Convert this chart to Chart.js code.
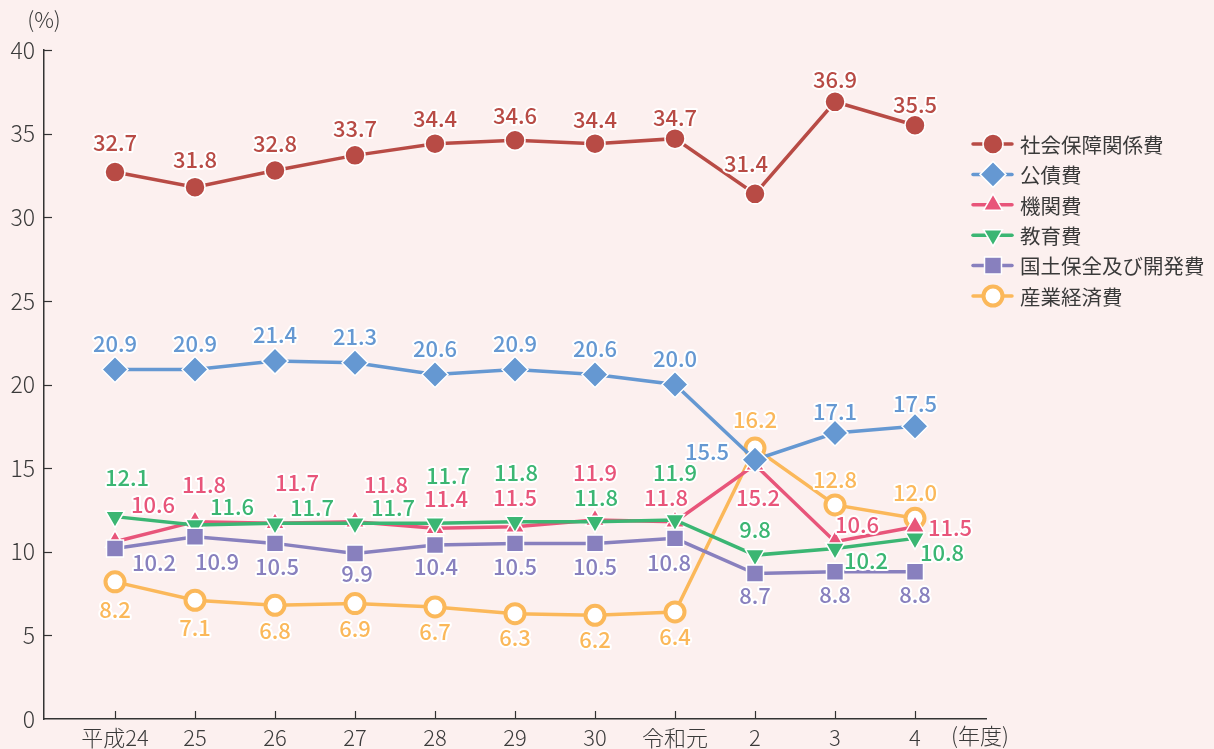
<!DOCTYPE html>
<html><head><meta charset="utf-8">
<script src="https://cdn.jsdelivr.net/npm/chart.js@4"></script>
<style>html,body{margin:0;padding:0;background:#fcf0ef;}#wrap{width:1214px;height:749px;position:relative}</style>
</head><body><div id="wrap"><canvas id="c" width="1214" height="749"></canvas></div>
<script>
// ---- data ----
const categories = ['平成24','25','26','27','28','29','30','令和元','2','3','4'];
const seriesNames = ['社会保障関係費','公債費','機関費','教育費','国土保全及び開発費','産業経済費'];
const socialSecurity = [32.7,31.8,32.8,33.7,34.4,34.6,34.4,34.7,31.4,36.9,35.5];
const publicDebt     = [20.9,20.9,21.4,21.3,20.6,20.9,20.6,20.0,15.5,17.1,17.5];
const agency         = [10.6,11.8,11.7,11.8,11.4,11.5,11.9,11.8,15.2,10.6,11.5];
const education      = [12.1,11.6,11.7,11.7,11.7,11.8,11.8,11.9,9.8,10.2,10.8];
const landDev        = [10.2,10.9,10.5,9.9,10.4,10.5,10.5,10.8,8.7,8.8,8.8];
const industry       = [8.2,7.1,6.8,6.9,6.7,6.3,6.2,6.4,16.2,12.8,12.0];
const yTicks = [0,5,10,15,20,25,30,35,40];

// ---- label placement (pixel offsets from marker) ----
const offSocial = [[0,-29],[0,-28],[0,-27],[0,-27],[0,-25],[0,-25],[0,-24],[0,-21],[-9,-30],[0,-22],[0,-21]];
const offDebt   = [[0,-26],[0,-26],[0,-26],[0,-26],[0,-26],[0,-26],[0,-26],[0,-26],[-48,-8],[0,-21],[0,-23]];
const offAgency = [[38,-37],[9,-37],[22,-41],[31,-37],[11,-30],[0,-29],[0,-47],[-9,-24],[3,33],[22,-17],[35,1]];
const offEdu    = [[12,-39],[37,-18],[37,-16],[38,-16],[13,-48],[1,-49],[1,-24],[0,-47],[0,-25],[31,12],[27,14]];
const offLand   = [[39,14],[22,25],[2,23],[2,20],[1,22],[0,23],[0,23],[-6,24],[0,22],[0,23],[0,23]];
const offInd    = [[0,28],[0,27],[0,25],[0,25],[0,25],[0,24],[0,24],[0,25],[0,-28],[0,-25],[0,-26]];

const FONT = "'Noto Sans CJK JP','Noto Sans',sans-serif";
const BG = '#fcf0ef';
const TXT = '#3a3a3a';

const pts = arr => arr.map((v,i)=>({x:i,y:v}));

const datasets = [
  {label:seriesNames[0], data:pts(socialSecurity), color:'#b84b45', pointStyle:'circle', pointRadius:10, order:0, offs:offSocial},
  {label:seriesNames[1], data:pts(publicDebt), color:'#6598d2', pointStyle:'rectRot', pointRadius:13, order:1, offs:offDebt},
  {label:seriesNames[2], data:pts(agency), color:'#e8557a', pointStyle:'triangle', pointRadius:11, order:4, offs:offAgency},
  {label:seriesNames[3], data:pts(education), color:'#3bb673', pointStyle:'triangle', pointRotation:180, pointRadius:11, order:3, offs:offEdu},
  {label:seriesNames[4], data:pts(landDev), color:'#8880be', pointStyle:'rect', pointRadius:12, order:2, offs:offLand},
  {label:seriesNames[5], data:pts(industry), color:'#fbb85a', pointStyle:'circle', pointRadius:9.5, order:5, offs:offInd, hollow:true},
].map(d=>Object.assign(d,{
  borderColor:d.color, borderWidth:3.5, tension:0,
  pointBackgroundColor:d.hollow?'#ffffff':d.color,
  pointBorderColor:d.hollow?d.color:'#ffffff',
  pointBorderWidth:d.hollow?4:1.5,
  pointRotation:d.pointRotation||0,
  fill:false
}));

const bgPlugin = {
  id:'bg',
  beforeDraw(chart){
    const c=chart.ctx; c.save(); c.fillStyle=BG; c.fillRect(0,0,chart.width,chart.height); c.restore();
  }
};

const tickPlugin = {
  id:'inticks',
  beforeDatasetsDraw(chart){
    const c=chart.ctx, xs=chart.scales.x, ys=chart.scales.y, a=chart.chartArea;
    c.save(); c.strokeStyle='#333'; c.lineWidth=1.2;
    ys.ticks.forEach(t=>{ if(t.value===0) return; const y=Math.round(ys.getPixelForValue(t.value))+0.5; c.beginPath(); c.moveTo(a.left,y); c.lineTo(a.left+8,y); c.stroke(); });
    xs.ticks.forEach(t=>{ const x=Math.round(xs.getPixelForValue(t.value))+0.5; c.beginPath(); c.moveTo(x,a.bottom); c.lineTo(x,a.bottom-8); c.stroke(); });
    // axis units
    c.fillStyle=TXT; c.font="300 22px "+FONT; c.textAlign='center'; c.textBaseline='middle';
    c.fillText('(%)',44,20);
    c.fillText('(年度)',980,736);
    c.restore();
  }
};

const labelPlugin = {
  id:'vlabels',
  afterDatasetsDraw(chart){
    const c=chart.ctx; c.save();
    c.font="500 22px "+FONT; c.textAlign='center'; c.textBaseline='middle';
    c.lineJoin='round'; c.lineWidth=4; c.strokeStyle='#ffffff';
    chart.data.datasets.forEach((ds,di)=>{
      const meta=chart.getDatasetMeta(di);
      meta.data.forEach((p,i)=>{
        const o=ds.offs[i]; const txt=ds.data[i].y.toFixed(1);
        const x=p.x+o[0], y=p.y+o[1];
        c.strokeText(txt,x,y);
        c.fillStyle=ds.color; c.fillText(txt,x,y);
      });
    });
    c.restore();
  }
};

const legendPlugin = {
  id:'customLegend',
  afterDraw(chart){
    const c=chart.ctx; c.save();
    const x0=973, x1=1012, mx=993, tx=1020, y0=144, dy=30.4;
    chart.data.datasets.forEach((ds,i)=>{
      const y=y0+i*dy;
      c.strokeStyle=ds.color; c.lineWidth=3.5; c.lineCap='round';
      c.beginPath(); c.moveTo(x0,y); c.lineTo(x1,y); c.stroke();
      c.fillStyle=ds.pointBackgroundColor; c.strokeStyle=ds.pointBorderColor; c.lineWidth=ds.pointBorderWidth;
      Chart.helpers.drawPoint(c,{pointStyle:ds.pointStyle,radius:ds.pointRadius,rotation:ds.pointRotation,borderWidth:ds.pointBorderWidth},mx,y);
      c.fillStyle=TXT; c.font="400 20.5px "+FONT; c.textAlign='left'; c.textBaseline='middle';
      c.fillText(ds.label,tx,y+1);
    });
    c.restore();
  }
};

new Chart(document.getElementById('c'),{
  type:'line',
  data:{datasets},
  options:{
    responsive:false, animation:false, devicePixelRatio:1,
    layout:{padding:{top:50,right:228,left:0,bottom:0}},
    plugins:{legend:{display:false},tooltip:{enabled:false}},
    scales:{
      x:{type:'linear', min:-0.8875, max:10.8875,
        afterBuildTicks(s){ s.ticks=categories.map((_,i)=>({value:i})); },
        afterFit(s){ s.height=30; },
        ticks:{autoSkip:false, maxRotation:0, padding:5, color:TXT, font:{family:FONT,size:22,weight:300},
          callback:v=>categories[v]},
        grid:{display:false, drawTicks:false},
        border:{display:true,color:'#333',width:1.5}
      },
      y:{min:0,max:40,
        afterBuildTicks(s){ s.ticks=yTicks.map(v=>({value:v})); },
        afterFit(s){ s.width=44; },
        ticks:{padding:9,color:TXT,font:{family:FONT,size:23,weight:300}},
        grid:{display:false, drawTicks:false},
        border:{display:true,color:'#333',width:1.5}
      }
    }
  },
  plugins:[bgPlugin,tickPlugin,labelPlugin,legendPlugin]
});
</script></body></html>
